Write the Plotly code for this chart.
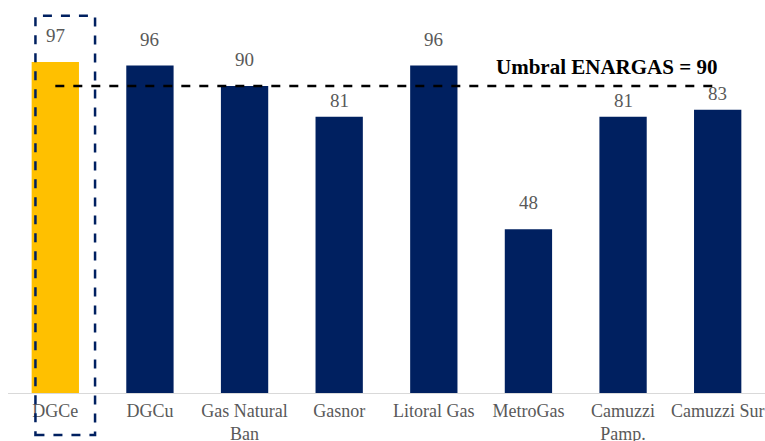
import plotly.graph_objects as go

categories = ["DGCe", "DGCu", "Gas Natural<br>Ban", "Gasnor", "Litoral Gas", "MetroGas", "Camuzzi<br>Pamp.", "Camuzzi Sur"]
values = [97, 96, 90, 81, 96, 48, 81, 83]
threshold = 90
threshold_label = "Umbral ENARGAS = 90"
highlight_index = 0
# pixel lift of each value label above its bar (labels under the threshold line sit closer)
label_lift = [14, 14, 14, 4, 14, 14, 4, 4]

GOLD = "#FFC000"
NAVY = "#002060"
GRAY = "#595959"
SERIF = "Liberation Serif, Times New Roman, serif"

W, H = 765, 441
ML, MR, MT, MB = 8, 0, 0, 48
YMAX = 115.2
XR = (-0.5, len(categories) - 0.5)

x = list(range(len(categories)))
colors = [GOLD if i == highlight_index else NAVY for i in x]

fig = go.Figure()
fig.add_trace(go.Bar(x=x, y=values, marker=dict(color=colors, line=dict(width=0)),
                     width=0.5, hoverinfo="skip"))

fig.add_trace(go.Scatter(x=[x[0], x[-1]], y=[threshold, threshold], mode="lines",
                         line=dict(color="black", width=2.5, dash="dash"), hoverinfo="skip"))

for i, v, s in zip(x, values, label_lift):
    fig.add_annotation(x=i, y=v, text=str(v), showarrow=False, yanchor="bottom",
                       yshift=s, font=dict(family=SERIF, size=19, color=GRAY))

fig.add_annotation(x=5.82, y=threshold, text="<b>" + threshold_label + "</b>", showarrow=False,
                   yanchor="bottom", yshift=5, font=dict(family=SERIF, size=21, color="black"))

def xpaper(v):
    return (v - XR[0]) / (XR[1] - XR[0])
def ypaper(v):
    return v / YMAX
fig.add_shape(type="rect", xref="paper", yref="paper",
              x0=xpaper(highlight_index - 0.21), x1=xpaper(highlight_index + 0.42),
              y0=ypaper(-12.3), y1=ypaper(110.6),
              line=dict(color=NAVY, width=2.5, dash="dash"), fillcolor="rgba(0,0,0,0)")

fig.update_layout(
    width=W, height=H, margin=dict(l=ML, r=MR, t=MT, b=MB, autoexpand=False),
    plot_bgcolor="white", paper_bgcolor="white", showlegend=False,
    xaxis=dict(range=list(XR), tickmode="array", tickvals=x, ticktext=categories,
               automargin=False,
               showline=True, linecolor="#D9D9D9", linewidth=1, showgrid=False,
               zeroline=False, ticks="outside", ticklen=1, tickcolor="rgba(0,0,0,0)",
               tickfont=dict(family=SERIF, size=18, color=GRAY)),
    yaxis=dict(range=[0, YMAX], visible=False, showgrid=False, zeroline=False, automargin=False),
)

fig.write_html("out.html")
